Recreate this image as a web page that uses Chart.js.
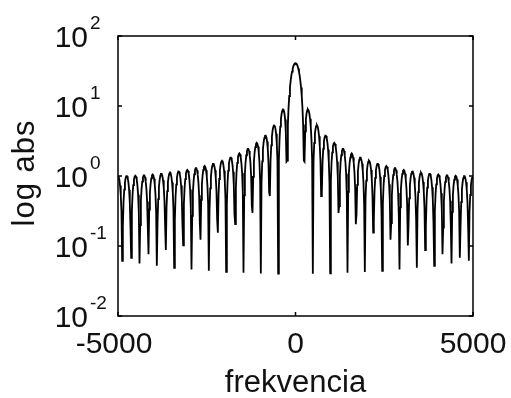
<!DOCTYPE html>
<html>
<head>
<meta charset="utf-8">
<script src="https://cdn.jsdelivr.net/npm/chart.js@4/dist/chart.umd.min.js"></script>
<style>
  html, body { margin: 0; padding: 0; background: #fff; }
  #wrap { width: 511px; height: 398px; }
</style>
</head>
<body>
<div id="wrap"><canvas id="spectrum" width="511" height="398"></canvas></div>
<script>
// Spectrum |X(f)| of a 41-sample pulse, 512-point FFT, fs = 10 kHz
const fs = 10000;
const nfft = 512;

// magnitude for bins k = 0..256 (spectrum is symmetric, left half mirrors it)
const magHalf = [
  41, 40.6, 39.3, 37.2, 34.4, 31.0, 27.1, 22.9, 18.4, 13.9,
  9.55, 5.42, 1.66, 1.61, 4.33, 6.43, 7.89, 8.71, 8.92, 8.58,
  7.76, 6.55, 5.06, 3.39, 1.66, 0.0402, 1.60, 2.96, 4.03, 4.79,
  5.21, 5.28, 5.03, 4.48, 3.69, 2.73, 1.64, 0.517, 0.583, 1.59,
  2.45, 3.12, 3.57, 3.77, 3.74, 3.48, 3.01, 2.38, 1.62, 0.800,
  0.0406, 0.847, 1.57, 2.17, 2.62, 2.89, 2.97, 2.86, 2.58, 2.15,
  1.60, 0.969, 0.297, 0.373, 1.00, 1.55, 1.98, 2.28, 2.43, 2.43,
  2.27, 1.98, 1.57, 1.08, 0.527, 0.0414, 0.593, 1.10, 1.52, 1.83,
  2.03, 2.10, 2.03, 1.84, 1.54, 1.15, 0.692, 0.205, 0.285, 0.748,
  1.15, 1.48, 1.71, 1.83, 1.83, 1.71, 1.50, 1.19, 0.814, 0.394,
  0.0426, 0.469, 0.860, 1.19, 1.44, 1.60, 1.65, 1.60, 1.45, 1.22,
  0.906, 0.545, 0.155, 0.239, 0.612, 0.941, 1.21, 1.39, 1.49, 1.49,
  1.40, 1.23, 0.973, 0.665, 0.318, 0.0442, 0.399, 0.724, 1.00, 1.21,
  1.34, 1.39, 1.35, 1.22, 1.02, 0.761, 0.455, 0.123, 0.212, 0.530,
  0.812, 1.04, 1.20, 1.29, 1.29, 1.21, 1.06, 0.839, 0.571, 0.269,
  0.0463, 0.356, 0.640, 0.882, 1.07, 1.18, 1.22, 1.19, 1.08, 0.900,
  0.668, 0.397, 0.102, 0.196, 0.480, 0.731, 0.935, 1.08, 1.15, 1.16,
  1.09, 0.947, 0.751, 0.509, 0.236, 0.0488, 0.329, 0.587, 0.806, 0.974,
  1.08, 1.12, 1.08, 0.982, 0.820, 0.607, 0.358, 0.0874, 0.187, 0.448,
  0.680, 0.867, 1.00, 1.07, 1.07, 1.01, 0.876, 0.693, 0.468, 0.214,
  0.0521, 0.314, 0.555, 0.760, 0.916, 1.02, 1.05, 1.02, 0.922, 0.769,
  0.568, 0.332, 0.0763, 0.183, 0.431, 0.650, 0.828, 0.953, 1.02, 1.02,
  0.956, 0.833, 0.658, 0.442, 0.199, 0.0562, 0.307, 0.538, 0.735, 0.885,
  0.979, 1.01, 0.981, 0.888, 0.739, 0.545, 0.316, 0.0679, 0.184, 0.424,
  0.638, 0.810, 0.932, 0.995, 0.995, 0.933, 0.812, 0.640, 0.428, 0.189,
  0.0614, 0.308, 0.535, 0.729, 0.876, 0.969, 1.00
];

const xTicks = [-5000, 0, 5000];
const xTickLabels = ['-5000', '0', '5000'];
const yTicks = [100, 10, 1, 0.1, 0.01];
const yTickExps = ['2', '1', '0', '-1', '-2'];

const points = [];
for (let k = -nfft / 2; k < nfft / 2; k++) {
  points.push({ x: k * fs / nfft, y: magHalf[Math.abs(k)] });
}

const FONT = '"Liberation Sans", Arial, Helvetica, sans-serif';

// matlab-like box, inward ticks and labels
const matlabAxes = {
  id: 'matlabAxes',
  afterDraw(chart) {
    const { ctx, chartArea: a, scales } = chart;
    const sx = scales.x, sy = scales.y;
    const tl = 4;
    ctx.save();
    ctx.strokeStyle = '#000';
    ctx.lineWidth = 1.5;
    ctx.strokeRect(a.left, a.top, a.right - a.left, a.bottom - a.top);

    ctx.beginPath();
    xTicks.forEach(v => {
      const px = sx.getPixelForValue(v);
      ctx.moveTo(px, a.bottom); ctx.lineTo(px, a.bottom - tl);
      ctx.moveTo(px, a.top); ctx.lineTo(px, a.top + tl);
    });
    yTicks.forEach(v => {
      const py = sy.getPixelForValue(v);
      ctx.moveTo(a.left, py); ctx.lineTo(a.left + tl, py);
      ctx.moveTo(a.right, py); ctx.lineTo(a.right - tl, py);
    });
    ctx.stroke();

    ctx.fillStyle = '#111';
    ctx.textBaseline = 'alphabetic';

    // x tick labels (matlab's minus sits a bit further left)
    ctx.font = '30px ' + FONT;
    ctx.textAlign = 'center';
    xTicks.forEach((v, i) => {
      const shift = v < 0 ? -4 : 0;
      ctx.fillText(xTickLabels[i], sx.getPixelForValue(v) + shift, a.bottom + 37);
    });

    // y tick labels 10^n
    yTicks.forEach((v, i) => {
      const py = sy.getPixelForValue(v);
      ctx.font = '30px ' + FONT;
      ctx.textAlign = 'right';
      ctx.fillText('10', a.left - 30, py + 11);
      ctx.font = '19px ' + FONT;
      ctx.textAlign = 'left';
      ctx.fillText(yTickExps[i], a.left - 28, py - 7);
    });

    // axis titles
    ctx.font = '31px ' + FONT;
    ctx.textAlign = 'center';
    ctx.fillText('frekvencia', (a.left + a.right) / 2, a.bottom + 76);

    ctx.translate(34, 173);
    ctx.rotate(-Math.PI / 2);
    ctx.letterSpacing = '1px';
    ctx.fillText('log abs', 0, 0);
    ctx.restore();
  }
};

new Chart(document.getElementById('spectrum'), {
  type: 'line',
  data: {
    datasets: [{
      data: points,
      borderColor: '#000',
      borderWidth: 1.8,
      pointRadius: 0,
      tension: 0,
      fill: false
    }]
  },
  options: {
    responsive: false,
    animation: false,
    devicePixelRatio: 1,
    layout: { padding: { left: 118, top: 36, right: 38, bottom: 82 } },
    plugins: { legend: { display: false }, tooltip: { enabled: false } },
    scales: {
      x: { type: 'linear', min: -5000, max: 5000, display: false },
      y: { type: 'logarithmic', min: 0.01, max: 100, display: false }
    }
  },
  plugins: [matlabAxes]
});
</script>
</body>
</html>
